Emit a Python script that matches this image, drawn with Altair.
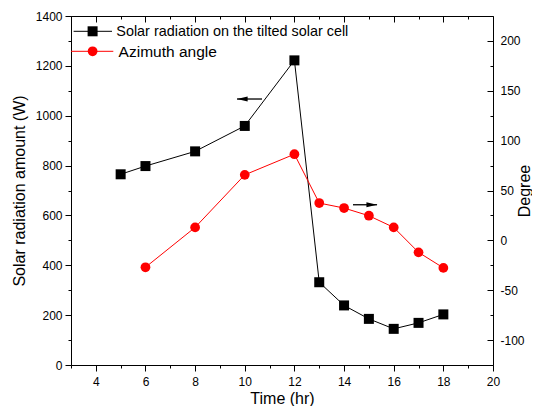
import altair as alt
import pandas as pd

FONT = "Liberation Sans"

# ---- data ----
hours_rad = [5, 6, 8, 10, 12, 13, 14, 15, 16, 17, 18]
radiation = [765, 798, 857, 959, 1222, 332, 239, 185, 145, 169, 203]

hours_az = [6, 8, 10, 12, 13, 14, 15, 16, 17, 18]
azimuth = [-27, 13, 65.7, 86.4, 37.4, 32.4, 24.7, 13, -12, -27.6]

x_major = [4, 6, 8, 10, 12, 14, 16, 18, 20]
x_minor = [3, 5, 7, 9, 11, 13, 15, 17, 19]
rad_major = [0, 200, 400, 600, 800, 1000, 1200, 1400]
rad_minor = [100, 300, 500, 700, 900, 1100, 1300]
deg_major = [-100, -50, 0, 50, 100, 150, 200]
deg_minor = [-75, -25, 25, 75, 125, 175]

legend_labels = ["Solar radiation on the tilted solar cell", "Azimuth angle"]

# arrows (data units): tail, tip, level
arrow_rad_tail = [10.694]
arrow_rad_tip = [9.687]
arrow_rad_level = [1067]
arrow_az_tail = [14.36]
arrow_az_tip = [15.33]
arrow_az_level = [35.7]

rad_df = pd.DataFrame({"t": hours_rad, "v": radiation})
az_df = pd.DataFrame({"t": hours_az, "v": azimuth})
arr_rad_df = pd.DataFrame({"tail": arrow_rad_tail, "tip": arrow_rad_tip, "v": arrow_rad_level})
arr_az_df = pd.DataFrame({"tail": arrow_az_tail, "tip": arrow_az_tip, "v": arrow_az_level})
legend_df = pd.DataFrame({"label": legend_labels})

x_scale = alt.Scale(domain=[3, 20], nice=False, zero=False)
rad_scale = alt.Scale(domain=[0, 1400], nice=False, zero=False)
deg_scale = alt.Scale(domain=[-125, 225], nice=False, zero=False)

common = dict(grid=False, domainColor="black", tickColor="black", labelColor="black",
              titleColor="black", labelFont=FONT, titleFont=FONT, labelFontSize=12,
              titleFontSize=16, titleFontWeight="normal", tickWidth=1, domainWidth=1,
              labelFlush=False, labelExpr="datum.value + ''")

ax_bottom = alt.Axis(orient="bottom", values=x_major, tickSize=6, labelPadding=5,
                     title="Time (hr)", titlePadding=3, **common)
ax_bottom_minor = alt.Axis(orient="bottom", values=x_minor, tickSize=3, labels=False,
                           domain=False, **common)
ax_top = alt.Axis(orient="top", values=x_major, tickSize=6, offset=-6, labels=False,
                  domain=False, **common)
ax_top_minor = alt.Axis(orient="top", values=x_minor, tickSize=3, offset=-3, labels=False,
                        domain=False, **common)

ax_left = alt.Axis(orient="left", values=rad_major, tickSize=6, labelPadding=3,
                   title="Solar radiation amount (W)", titlePadding=8, **common)
ax_left_minor = alt.Axis(orient="left", values=rad_minor, tickSize=3, labels=False,
                         domain=False, **common)
ax_right = alt.Axis(orient="right", values=deg_major, tickSize=6, offset=-6, labelPadding=7,
                    domain=False, title="Degree", titleAngle=270, titleBaseline="top",
                    titlePadding=-8, **common)
ax_right_minor = alt.Axis(orient="right", values=deg_minor, tickSize=3, offset=-3,
                          labels=False, domain=False, **common)

# ---- radiation (left axis) ----
rad_line = alt.Chart(rad_df).mark_line(color="black", strokeWidth=1).encode(
    x=alt.X("t:Q", scale=x_scale, axis=ax_bottom),
    y=alt.Y("v:Q", scale=rad_scale, axis=ax_left),
)
rad_pts = alt.Chart(rad_df).mark_point(shape="square", filled=True, size=100,
                                       color="black", opacity=1).encode(
    x=alt.X("t:Q", scale=x_scale, axis=ax_bottom_minor, title=None),
    y=alt.Y("v:Q", scale=rad_scale, axis=ax_left_minor, title=None),
)
rad_arrow = alt.Chart(arr_rad_df).mark_rule(color="black", strokeWidth=1.3).encode(
    x=alt.X("tail:Q", scale=x_scale, axis=None),
    x2="tip:Q",
    y=alt.Y("v:Q", scale=rad_scale, axis=None),
)
rad_head = alt.Chart(arr_rad_df).mark_point(shape="M0,0L1,-0.24L1,0.24Z", filled=True,
                                            size=450, color="black", opacity=1,
                                            strokeWidth=0).encode(
    x=alt.X("tip:Q", scale=x_scale, axis=None),
    y=alt.Y("v:Q", scale=rad_scale, axis=None),
)
layer_rad = alt.layer(rad_line, rad_arrow, rad_head, rad_pts).resolve_axis(
    x="independent", y="independent")

# ---- azimuth (right axis) ----
az_line = alt.Chart(az_df).mark_line(color="#ff0000", strokeWidth=1).encode(
    x=alt.X("t:Q", scale=x_scale, axis=ax_top, title=None),
    y=alt.Y("v:Q", scale=deg_scale, axis=ax_right),
)
az_pts = alt.Chart(az_df).mark_circle(size=95, color="#ff0000", opacity=1).encode(
    x=alt.X("t:Q", scale=x_scale, axis=ax_top_minor, title=None),
    y=alt.Y("v:Q", scale=deg_scale, axis=ax_right_minor, title=None),
)
az_arrow = alt.Chart(arr_az_df).mark_rule(color="black", strokeWidth=1.3).encode(
    x=alt.X("tail:Q", scale=x_scale, axis=None),
    x2="tip:Q",
    y=alt.Y("v:Q", scale=deg_scale, axis=None),
)
az_head = alt.Chart(arr_az_df).mark_point(shape="M0,0L-1,-0.24L-1,0.24Z", filled=True,
                                          size=450, color="black", opacity=1,
                                          strokeWidth=0).encode(
    x=alt.X("tip:Q", scale=x_scale, axis=None),
    y=alt.Y("v:Q", scale=deg_scale, axis=None),
)
layer_az = alt.layer(az_line, az_arrow, az_head, az_pts).resolve_axis(
    x="independent", y="independent")

# ---- legend (inside top-left) ----
leg0 = alt.Chart(legend_df).transform_filter(alt.datum.label == legend_labels[0])
leg1 = alt.Chart(legend_df).transform_filter(alt.datum.label == legend_labels[1])
legend = alt.layer(
    leg0.mark_rule(color="black", strokeWidth=1).encode(
        x=alt.value(2.6), x2=alt.value(41), y=alt.value(15.3)),
    leg0.mark_point(shape="square", filled=True, size=100, color="black", opacity=1).encode(
        x=alt.value(21.6), y=alt.value(15.3)),
    leg0.mark_text(align="left", baseline="alphabetic", fontSize=14.4, font=FONT,
                   color="black").encode(x=alt.value(45.3), y=alt.value(20.3), text="label:N"),
    leg1.mark_rule(color="#ff0000", strokeWidth=1).encode(
        x=alt.value(0), x2=alt.value(42.3), y=alt.value(35.3)),
    leg1.mark_circle(size=95, color="#ff0000", opacity=1).encode(
        x=alt.value(21.6), y=alt.value(35.3)),
    leg1.mark_text(align="left", baseline="alphabetic", fontSize=15.5, font=FONT,
                   color="black").encode(x=alt.value(47.6), y=alt.value(41), text="label:N"),
)

chart = alt.layer(layer_rad, layer_az, legend).resolve_scale(
    y="independent"
).resolve_axis(
    x="independent", y="independent"
).properties(
    width=422, height=349,
    autosize=alt.AutoSizeParams(type="none"),
    padding={"left": 63, "top": 8, "right": 39, "bottom": 41},
    background="white",
).configure(font=FONT).configure_view(stroke="black", strokeWidth=1)

chart.save("out.html", embed_options={"renderer": "svg", "actions": False})
